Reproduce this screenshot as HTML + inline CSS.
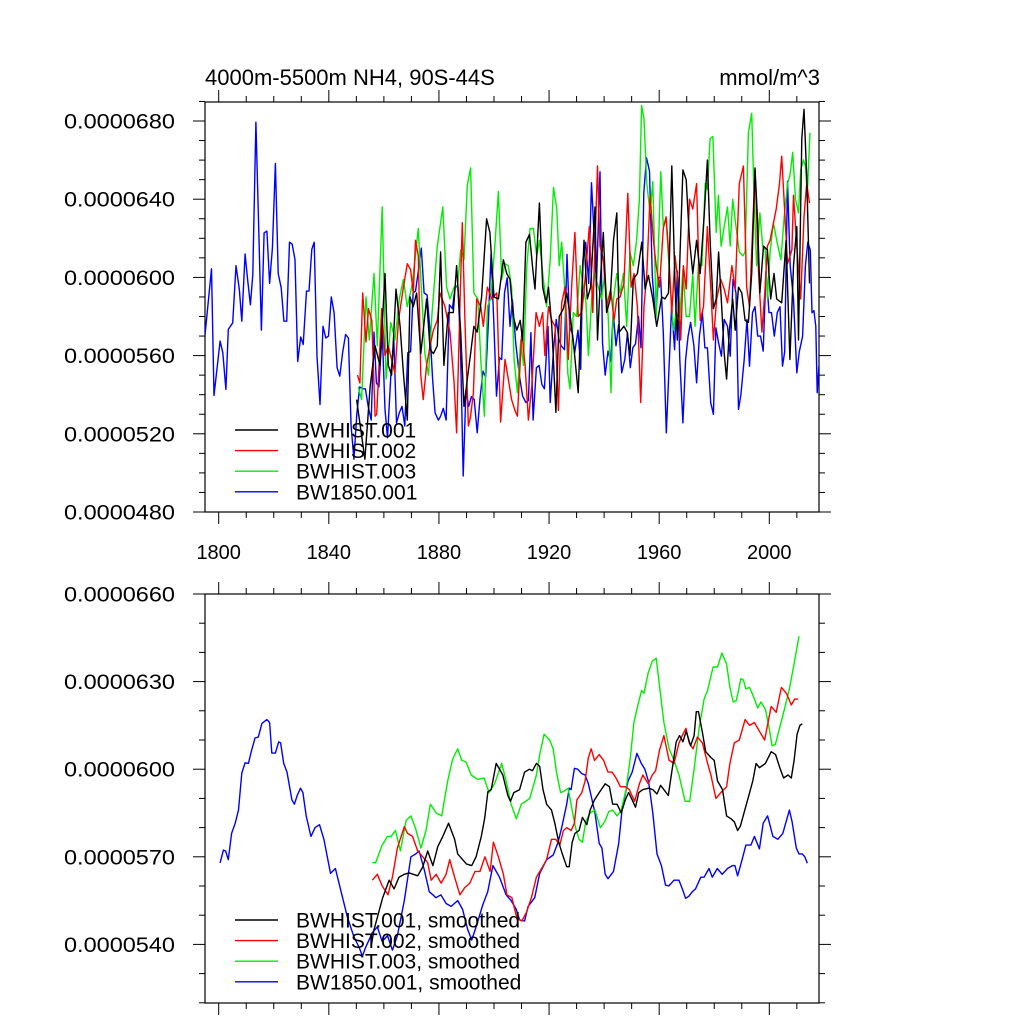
<!DOCTYPE html>
<html><head><meta charset="utf-8">
<style>
html,body{margin:0;padding:0;background:#fff;}
svg{display:block;font-family:"Liberation Sans",sans-serif;}
</style></head>
<body>
<svg id="chart" width="1024" height="1024" viewBox="0 0 1024 1024" xmlns="http://www.w3.org/2000/svg">
<defs>
<clipPath id="clipTop"><rect x="205" y="102" width="614" height="410"/></clipPath>
<clipPath id="clipBot"><rect x="205" y="594" width="614" height="409"/></clipPath>
</defs>
<g id="top"></g>
<g id="bot"></g>
</svg>
<script>
// ---------- DATA (values in units of 1e-6 mmol/m^3) ----------
const xTickYears = [1800, 1840, 1880, 1920, 1960, 2000];
const topYTicks = [48, 52, 56, 60, 64, 68];
const topYLabels = ["0.0000480","0.0000520","0.0000560","0.0000600","0.0000640","0.0000680"];
const botYTicks = [54, 57, 60, 63, 66];
const botYLabels = ["0.0000540","0.0000570","0.0000600","0.0000630","0.0000660"];
const seriesNames = ["BWHIST.001","BWHIST.002","BWHIST.003","BW1850.001"];
const seriesColors = ["#000000","#ff0000","#00ee00","#0000ff"];

const rawBlackYears = [1850.1,1853.1,1855,1856.8,1858.6,1860.4,1861.6,1862.8,1864.4,1865.9,1867.1,1868.5,1869.5,1870.7,1871.9,1873.4,1875.5,1876.8,1878,1879.4,1880.6,1881.8,1883.4,1885.2,1886.4,1887.9,1889.1,1890.3,1891.5,1892.7,1893.9,1895.5,1897.3,1898.5,1900,1901.6,1903.4,1904.6,1905.8,1907,1908.3,1909.5,1910.4,1911.6,1912.9,1914.1,1914.9,1916.5,1917.7,1918.9,1919.8,1921,1922.5,1923.7,1925.2,1926.4,1927.9,1929.1,1930.6,1931.9,1932.7,1933.9,1935.1,1936.7,1937.6,1938.5,1939.7,1940.9,1942.2,1943.4,1944.6,1945.5,1947.2,1948.4,1949.4,1950.6,1952.1,1953.7,1954.9,1956.1,1957.7,1959.1,1960.9,1962.1,1963.4,1964.6,1965.8,1966.6,1967.6,1968.6,1969.8,1971,1972.2,1973.6,1974.9,1976.3,1977.5,1978.5,1979.7,1980.7,1981.6,1982.7,1983.6,1984.5,1985.5,1986.7,1987.6,1988.8,1990,1991.2,1992.4,1993.6,1994.8,1995.7,1996.6,1997.9,1999.3,2000.5,2001.7,2002.7,2004.5,2006.1,2007.5,2008.8,2010,2010.6,2011.8,2012.6,2013.6,2014.6];
const rawBlackValues = [53.75,50.7,54.4,56.5,55.5,60.2,55.5,55.0,59.4,57.5,55.1,52.7,59.0,58.5,59.2,56.1,58.9,56.3,56.1,56.5,61.3,55.5,58.2,58.2,60.6,57.2,53.4,54.8,56.1,57.5,57.2,59.0,63.0,62.3,59.0,58.9,60.9,60.2,59.9,58.0,57.3,57.8,56.8,61.8,62.2,60.4,59.4,63.8,59.5,58.7,59.5,57.5,53.1,58.0,58.4,59.2,57.8,56.3,54.1,59.2,61.9,58.9,59.5,63.6,56.8,59.5,62.3,58.2,58.9,61.9,63.3,57.2,57.5,57.2,56.0,59.9,60.2,61.8,59.4,60.1,58.9,57.5,59.0,58.9,59.2,65.7,59.5,56.8,61.3,65.5,65.0,61.9,60.2,61.9,60.2,63.1,66.0,61.9,58.4,58.9,61.3,58.5,56.1,54.8,57.3,58.9,57.3,59.5,59.2,57.8,57.7,60.2,65.6,63.0,59.2,61.6,61.4,58.9,60.2,58.9,58.7,61.9,55.8,60.6,62.6,56.8,67.1,68.6,65.2,59.7];

const rawRedYears = [1850.4,1851.3,1852.3,1853.5,1854.4,1855.6,1856.8,1857.4,1859.2,1860.4,1861.6,1862.8,1864,1865.3,1867.1,1868.5,1869.7,1870.7,1871.5,1872.5,1873.4,1874.3,1875.5,1876.8,1878,1879.4,1880.4,1882.2,1884,1885.5,1886.4,1887.7,1888.5,1889.5,1890.7,1891.5,1892.5,1893.7,1895.2,1896.1,1897.6,1899.2,1901,1902.4,1904,1905.2,1906.4,1907.6,1908.5,1910.1,1911.3,1912.5,1913.7,1915.3,1916.5,1917.7,1918.5,1919.8,1921,1922.2,1923.4,1924.6,1925.8,1927,1928.2,1929.4,1930.6,1931.9,1933.1,1934.6,1935.9,1937.6,1938.5,1939.7,1940.9,1942.4,1943.6,1944.6,1945.8,1947.2,1948.6,1949.8,1950.9,1952.1,1953.3,1954.5,1955.5,1956.7,1957.9,1958.9,1960.1,1961.5,1962.5,1963.4,1964.6,1965.8,1967,1967.8,1968.8,1969.8,1971,1972.2,1973.6,1974.9,1976.1,1977.5,1978.7,1979.7,1980.9,1982.4,1983.6,1984.8,1986.4,1987.6,1989.1,1990.6,1991.8,1992.8,1994.8,1996.1,1997.3,1998.5,1999.3,2000.3,2002.5,2003.7,2004.5,2005.7,2006.6,2008.2,2008.8,2010,2011.4,2012.6,2013.6,2014.6];
const rawRedValues = [55.0,54.6,59.2,56.7,58.4,57.8,52.9,53.0,58.4,56.0,56.5,55.8,55.1,57.8,59.5,60.7,60.4,59.2,61.9,61.1,55.0,53.75,55.5,56.5,57.3,57.8,59.2,58.5,57.2,54.6,52.05,58.9,62.8,57.5,52.4,52.9,54.1,58.9,58.5,57.5,59.5,58.9,59.2,52.6,55.8,54.8,53.75,53.2,52.9,57.2,55.5,52.7,54.4,58.2,57.5,58.2,56.0,58.5,57.8,57.5,53.2,58.7,59.5,55.8,59.5,62.3,58.0,58.2,59.9,62.6,58.2,65.7,61.6,60.9,58.5,59.4,57.8,58.9,59.0,59.7,64.3,59.5,60.2,58.5,53.6,58.5,60.2,64.2,61.9,60.6,59.5,62.5,63.1,61.4,58.2,61.1,59.5,56.8,60.6,59.4,64.0,63.5,64.8,57.8,58.5,62.6,59.5,56.8,58.9,59.9,59.4,58.7,60.6,59.4,64.8,65.7,59.5,58.5,65.5,60.2,57.2,59.5,61.6,61.9,63.5,64.8,66.2,63.1,60.7,61.4,64.2,61.6,58.9,63.1,64.8,63.8];

const rawGreenYears = [1850.7,1851.9,1853.5,1854.7,1856.4,1857.6,1859.4,1860.8,1862.5,1864,1865.6,1867.1,1868.5,1870.1,1871.3,1872.5,1873.7,1874.9,1876.2,1877.4,1879.4,1881.4,1882.8,1884,1885.5,1886.7,1887.9,1889.1,1890.3,1891.5,1892.7,1894.1,1895.3,1896.5,1897.6,1898.8,1900.4,1901.6,1902.8,1904,1905.2,1906.4,1907.3,1908.5,1909.7,1910.7,1911.9,1913.1,1914.3,1915.5,1916.5,1917.7,1919.1,1920.4,1921.6,1922.8,1923.7,1924.6,1925.8,1926.8,1927.6,1928.8,1930,1931.3,1932.5,1933.4,1934.3,1935.5,1936.7,1937.9,1939.1,1940.3,1941.5,1942.5,1943.4,1944.6,1945.8,1947,1948.2,1949.4,1950.6,1951.8,1952.8,1953.6,1954.5,1955.5,1956.7,1957.7,1958.9,1960.6,1961.5,1962.5,1963.7,1965.2,1966.1,1967.4,1968.6,1969.8,1971,1972.2,1973,1974.3,1975.5,1976.7,1977.5,1978.5,1979.5,1980.7,1981.5,1982.5,1983.6,1984.8,1985.8,1986.7,1987.9,1989.1,1990.4,1991.2,1992.4,1993.6,1994.5,1995.4,1996.6,1997.6,1998.5,1999.3,2000.3,2001.5,2002.7,2004.2,2005.4,2006.6,2007.5,2008.5,2009.5,2010.6,2011.4,2012.4,2013.1,2013.8,2014.8];
const rawGreenValues = [54.4,53.75,59.0,56.8,60.2,56.5,63.6,54.8,57.7,56.8,58.9,59.9,58.5,59.5,60.9,62.5,59.2,56.1,55.0,58.0,61.6,63.6,59.5,58.9,59.5,59.5,61.4,60.9,64.7,65.6,59.2,58.9,55.5,52.9,58.5,58.9,61.8,64.4,59.9,60.7,60.6,59.5,55.8,54.1,56.8,55.5,60.6,62.5,62.5,61.1,61.9,60.2,58.5,60.9,64.6,63.5,60.6,61.8,59.2,55.1,54.3,58.2,58.0,60.6,59.5,58.7,56.0,58.9,60.2,59.5,58.9,60.2,58.0,54.1,58.9,60.2,59.2,60.2,57.5,61.3,60.6,61.9,64.0,68.8,68.1,64.8,63.3,64.9,58.0,65.4,62.6,63.0,60.2,57.3,58.2,57.8,60.4,58.0,58.0,60.2,57.5,60.7,60.6,64.8,64.5,67.1,67.2,62.3,64.2,61.6,62.6,63.6,61.6,64.0,62.6,61.3,61.1,61.3,67.4,68.4,64.0,60.6,63.3,61.6,61.4,58.9,61.3,62.8,61.9,60.9,63.1,64.8,65.2,66.4,64.0,63.3,65.5,66.0,65.7,64.3,67.4];

const rawBlueYears = [1795,1797.4,1798.3,1800.5,1801.5,1802.6,1803.5,1805.1,1806.3,1807.5,1808.4,1809.6,1810.5,1811.5,1812.4,1813.5,1815.5,1816.5,1817.5,1818.5,1819.5,1820.6,1821.6,1822.7,1823.7,1824.7,1825.7,1826.7,1827.7,1828.7,1829.8,1830.7,1831.9,1832.8,1833.8,1834.7,1835.7,1836.8,1837.9,1838.9,1839.9,1840.9,1841.9,1843,1844,1845,1846.1,1847.1,1848.1,1849.1,1850.2,1851.2,1852.3,1853.3,1854.3,1855.4,1856.4,1857.3,1858.2,1859.4,1860.4,1861.3,1862.5,1863.6,1864.6,1865.6,1866.6,1867.6,1868.7,1869.7,1870.6,1871.5,1872.4,1873.6,1874.6,1875.7,1876.7,1877.7,1878.6,1879.8,1880.6,1881.6,1882.6,1883.8,1884.9,1885.9,1886.9,1887.8,1888.8,1889.8,1890.8,1891.8,1892.8,1893.9,1894.9,1896,1897,1897.9,1898.9,1899.9,1900.9,1902,1902.8,1903.8,1904.8,1905.8,1906.7,1907.9,1909.2,1910.4,1911.6,1912.5,1913.4,1914.2,1915.4,1916.4,1917.4,1918.3,1919.6,1920.4,1921.6,1922.6,1923.6,1924.4,1925.6,1926.5,1927.5,1928.5,1929.3,1930.5,1931.5,1932.3,1933.3,1934.4,1935.4,1936.4,1937.2,1938.5,1939.4,1940.4,1941.4,1942.4,1943.3,1944.3,1945.3,1946.4,1947.5,1948.5,1949.5,1950.4,1951.4,1952.5,1953.4,1954.4,1955.4,1956.5,1957.5,1958.7,1959.7,1960.5,1961.5,1962.6,1963.6,1964.5,1965.6,1966.6,1967.5,1968.6,1969.6,1970.5,1971.4,1972.6,1973.6,1974.6,1975.7,1976.6,1977.5,1978.7,1979.7,1980.6,1981.5,1982.6,1983.6,1984.8,1985.8,1986.8,1987.9,1988.8,1989.7,1990.9,1991.9,1992.8,1993.9,1994.8,1995.8,1996.8,1997.8,1998.8,1999.9,2000.8,2001.8,2002.9,2003.9,2004.8,2005.6,2006.6,2007.6,2008.8,2010,2010.9,2012.1,2013.1,2014,2014.9,2015.5,2016.2,2016.9,2017.4,2018];
const rawBlueValues = [57.0,60.44,53.96,56.74,56.15,54.27,57.34,57.68,60.6,59.4,57.76,61.2,59.9,58.6,60.15,67.94,57.3,62.28,62.37,59.7,61.5,65.83,60.2,59.47,57.76,57.76,61.8,61.7,60.9,55.7,56.95,56.57,59.3,59.3,61.43,61.8,55.97,53.5,57.5,56.9,57.0,59.0,58.19,55.38,54.95,56.15,57.08,56.9,52.4,50.7,53.07,54.4,54.3,54.3,53.4,52.7,57.2,54.6,54.4,57.25,53.25,51.8,54.95,56.8,52.56,53.07,53.4,52.4,56.15,56.2,59.2,59.3,60.2,61.5,59.2,59.1,57.34,54.8,53.07,52.7,52.9,53.3,52.7,58.6,58.4,59.55,59.55,56.66,49.84,54.2,53.4,53.9,53.76,52.05,53.8,55.2,54.9,57.5,61.17,57.85,53.93,55.9,55.8,59.2,59.98,57.5,58.87,56.66,55.0,53.93,53.6,53.7,57.17,52.7,55.38,55.5,54.52,54.3,57.5,53.6,56.3,57.85,56.8,56.5,56.3,61.17,57.5,57.1,56.15,57.3,55.3,60.9,61.8,59.7,64.84,62.1,59.55,65.4,56.66,55.0,56.23,55.7,58.19,56.5,57.6,55.12,55.8,57.17,55.38,56.4,56.6,58.0,56.4,64.33,66.12,65.43,60.06,57.85,60.0,60.0,57.17,52.05,55.46,58.53,56.3,60.32,55.8,52.56,55.8,57.0,57.7,56.5,54.61,57.0,58.19,56.4,56.4,53.6,53.0,57.42,56.7,55.97,57.85,57.5,55.97,59.9,59.2,53.25,54.0,55.8,57.85,55.46,58.2,58.5,57.0,57.0,56.23,60.32,58.2,58.2,57.0,58.2,58.5,55.46,56.2,64.92,60.58,58.9,55.12,56.2,57.0,60.6,61.8,61.4,58.19,58.3,57.5,54.1,55.46,53.4];

const smBlackYears = [1855.5,1856.4,1859.5,1861.9,1863.7,1865.5,1867.4,1869.2,1872.3,1874.1,1875.9,1877.8,1879.6,1881.4,1883.5,1885.7,1886.8,1890,1891.9,1893.5,1895.4,1896.6,1897.8,1899,1900.8,1903.2,1905,1906,1907.2,1909.3,1911.1,1912.9,1914,1915.4,1916.6,1917.8,1919.1,1920.9,1922.1,1923.5,1924.8,1926.4,1927.3,1928.4,1929.4,1930.9,1932.1,1933.7,1934.9,1936.5,1938.2,1940.4,1941.9,1943.1,1944.7,1946.2,1947.7,1948.9,1950.2,1951.4,1952.6,1954.1,1956.2,1957.7,1959.2,1960.5,1963.3,1964.8,1966.2,1967.4,1968.6,1969.8,1971.4,1972.7,1973.5,1974.3,1975.7,1976.9,1978.8,1980,1981.2,1983,1984.5,1986.1,1987.3,1988.5,1989.5,1992.1,1994,1995.2,1996.4,1998.6,2000.7,2002.3,2003.8,2005.2,2006.8,2008,2009,2010.1,2011.1,2012];
const smBlackValues = [54.0,54.5,55.58,56.2,55.9,56.3,56.4,56.45,56.35,56.65,57.2,56.7,57.35,57.7,58.15,57.6,57.1,56.75,56.7,57.0,57.7,58.3,59.23,59.3,60.2,59.8,59.1,58.9,59.2,59.3,59.9,60.0,59.95,60.2,60.1,59.3,58.8,58.6,58.15,57.5,57.1,56.66,56.66,57.5,57.8,57.9,58.35,58.1,58.6,58.95,59.2,59.5,59.4,58.8,58.8,58.5,58.95,59.2,58.95,58.7,59.2,59.3,59.35,59.3,59.15,59.45,59.1,60.05,60.94,61.15,60.94,61.3,60.8,61.15,61.97,61.97,61.26,60.6,60.4,60.3,59.6,59.3,58.4,58.3,58.2,57.9,58.05,58.95,59.6,60.2,60.05,60.2,60.6,60.5,60.05,59.7,59.8,59.7,60.3,61.2,61.5,61.55];

const smRedYears = [1855.8,1857.6,1859.4,1861.5,1863.1,1864.9,1867.4,1868.6,1870.4,1872.3,1874.1,1875.9,1877.2,1879,1880.8,1882.6,1883.9,1885.7,1887.6,1889.4,1891.2,1893.1,1894.9,1896.7,1898.6,1899.8,1901.6,1903.4,1904.7,1906.5,1908.3,1910.1,1911.8,1913.6,1915.4,1917.3,1919.1,1920.9,1922.4,1923.9,1925.2,1926.4,1928,1929.2,1930.1,1931.9,1933.1,1934.3,1935.3,1936.5,1938.2,1939.8,1941.4,1942.9,1944.3,1945.9,1947.7,1949.1,1951.1,1952.8,1954.1,1956,1957.5,1958.7,1960.1,1961.7,1963.6,1965.4,1967.2,1968.4,1969.7,1970.9,1972.3,1973.9,1975.7,1977.6,1978.8,1980.6,1982.4,1984.5,1985.7,1987.3,1989.1,1991.2,1992.8,1994.6,1996.4,1998.3,2000.7,2002.5,2004.4,2006.2,2008,2009.2,2010.5];
const smRedValues = [56.2,56.4,56.0,55.7,56.3,57.3,58.03,57.8,57.7,57.2,57.0,56.8,56.2,56.4,56.1,56.4,56.9,56.3,55.7,55.95,56.1,56.5,56.5,57.0,56.5,57.5,57.0,56.4,55.7,55.6,54.9,54.8,55.1,55.6,56.3,56.6,56.9,57.6,57.6,57.4,57.9,58.0,57.9,58.15,58.95,59.2,59.6,60.4,60.7,60.3,60.5,60.3,59.9,59.9,59.7,59.4,59.4,59.3,58.9,59.5,59.8,59.5,59.8,59.95,60.65,61.15,60.3,60.2,60.9,61.15,61.4,60.9,60.7,61.1,60.9,60.2,59.8,59.0,59.2,59.4,60.2,60.9,61.0,61.7,61.5,61.6,61.3,61.0,62.15,61.95,62.8,62.6,62.2,62.4,62.4];

const smGreenYears = [1855.8,1857,1859.4,1861.3,1862.6,1864.2,1866,1868.1,1869.8,1871.4,1873.5,1875.3,1876.9,1879,1881,1883.2,1885,1886.8,1888.3,1889.8,1891.7,1894.1,1896.4,1898.2,1900.2,1902.8,1904.4,1906.2,1908.1,1909.9,1913,1915.4,1916.6,1918.2,1920.2,1921.5,1922.7,1924.2,1925.5,1926.9,1928.2,1929.6,1930.9,1932.1,1933.3,1934.9,1936.7,1938.6,1940.2,1941.7,1943.1,1944.7,1946.2,1948,1949.6,1950.8,1952,1953.6,1954.5,1956,1957.5,1958.9,1960.2,1961.7,1963.6,1965.4,1967.2,1969.4,1971.1,1972.7,1974.5,1976.3,1977.6,1979.6,1981.2,1982.8,1984.5,1985.7,1986.9,1988,1989.7,1990.6,1991.5,1992.8,1994.2,1995.8,1997,1998.6,1999.8,2001,2002.2,2003.7,2005.5,2007.3,2008.8,2010.8];
const smGreenValues = [56.8,56.8,57.4,57.7,57.7,57.9,57.2,58.25,58.4,58.0,57.3,57.9,58.8,58.5,58.4,59.6,60.35,60.7,60.3,60.25,59.8,59.65,59.7,59.2,59.5,60.2,59.6,58.8,58.3,58.8,59.0,59.8,60.5,61.2,61.0,60.7,59.9,59.2,59.25,59.35,58.7,58.0,57.6,57.5,58.2,58.5,58.6,58.0,58.2,58.55,58.6,58.4,58.6,59.3,60.45,61.6,62.1,62.7,62.6,63.3,63.7,63.8,62.8,61.6,60.7,60.3,59.8,58.9,58.9,60.0,61.4,62.4,62.7,63.5,63.5,63.98,63.6,62.8,62.3,62.35,63.1,63.05,62.75,62.8,62.5,62.1,62.3,62.05,61.5,60.8,60.85,61.4,62.05,62.75,63.5,64.55];

const smBlueYears = [1800.5,1801.7,1802.5,1803.5,1804.7,1806,1807.2,1808.4,1809.6,1810.8,1812,1813.2,1814.4,1815.7,1817.5,1818.5,1819.3,1820.6,1821.8,1822.5,1823.6,1824.8,1826.6,1827.5,1828.5,1829.7,1830.6,1831.8,1833.5,1835,1836.6,1838.2,1840.6,1842.4,1844.3,1846.7,1849.1,1851,1852.2,1853.4,1855.8,1857.6,1859.4,1861.3,1863.1,1864.9,1867.4,1869.8,1871.6,1872.8,1874.7,1876.5,1877.8,1878.9,1880.7,1882.6,1884.4,1886.8,1888.6,1890.5,1891.9,1893.5,1895.9,1897.7,1899.6,1902,1904.4,1906.2,1908.1,1909.3,1911.1,1912.4,1914.8,1916.6,1919.1,1921.5,1923.3,1924.6,1926.4,1927.3,1928,1929.2,1930.4,1931.9,1933.1,1934.3,1935.5,1936.7,1938.2,1939.2,1940.4,1941.4,1943.4,1945.3,1946.5,1948.7,1950.2,1951.9,1953.5,1954.8,1956.2,1957.7,1959.2,1960.8,1962.3,1963.5,1965.4,1967.2,1968.4,1969.6,1970.8,1972,1973.2,1975.1,1976.3,1978.1,1979.3,1981.1,1982.9,1984.8,1986.6,1987.5,1988.5,1989.7,1991.5,1993.3,1994.6,1996.4,1997.8,1999.4,2001.3,2003.1,2004.9,2007.3,2008.3,2009.8,2010.8,2012,2012.9,2013.8];
const smBlueValues = [56.79,57.23,57.2,56.9,57.8,58.15,58.6,59.87,60.22,60.2,60.66,61.07,61.1,61.57,61.7,61.6,60.55,60.55,60.94,60.9,60.2,59.9,58.95,58.8,59.1,59.35,59.2,58.4,57.7,58.0,58.1,57.6,56.43,56.6,55.86,54.95,54.26,53.9,53.6,53.9,54.4,54.6,54.1,54.3,53.8,54.3,55.5,57.0,57.1,57.2,56.55,55.8,55.7,55.6,55.7,55.4,55.3,55.5,55.2,54.5,54.15,54.6,55.35,55.8,56.7,56.3,55.7,55.5,55.2,54.84,54.8,55.3,55.6,56.43,56.9,57.06,57.5,58.0,58.8,59.35,59.3,60.03,60.0,59.85,59.8,59.5,59.0,58.5,57.46,57.3,56.4,56.25,56.5,57.46,58.6,59.6,59.9,60.54,60.2,60.0,59.55,58.5,57.1,56.7,56.03,56.0,56.2,56.2,55.9,55.58,55.65,55.8,55.9,56.3,56.3,56.6,56.3,56.6,56.4,56.6,56.7,56.7,56.35,56.75,57.4,57.4,57.7,57.27,58.15,58.4,57.7,57.6,57.8,58.6,58.2,57.3,57.1,57.1,57.0,56.78];

// ---------- DRAWING ----------
const NS = "http://www.w3.org/2000/svg";
const X0 = 205, X1 = 819;
function xScale(yr){ return 218.7 + (yr - 1800) * 2.753; }
function yTop(v){ return 121 + (68 - v) * 19.55; }
function yBot(v){ return 594 + (66 - v) * 29.2; }
function mk(tag, attrs, parent){
  const e = document.createElementNS(NS, tag);
  for (const k in attrs) e.setAttribute(k, attrs[k]);
  parent.appendChild(e);
  return e;
}

function drawPanel(g, top, bottom, yFn, yMin, yMax, yTicks, yLabels, showXLabels){
  const frame = mk("rect", {x:X0, y:top, width:X1-X0, height:bottom-top, fill:"none", stroke:"#000", "stroke-width":1.2}, g);
  
  
  for (let yr = 1800; yr <= 2010; yr += 10){
    const x = xScale(yr);
    const major = xTickYears.indexOf(yr) >= 0;
    const len = major ? 12 : 6;
    const tb = mk("line", {x1:x, x2:x, y1:bottom, y2:bottom+len, stroke:"#000", "stroke-width":1}, g);
    
    
    const tt = mk("line", {x1:x, x2:x, y1:top, y2:top-len, stroke:"#000", "stroke-width":1}, g);
    
    
  }
  if (showXLabels){
    xTickYears.forEach(yr => {
      const t = mk("text", {x:xScale(yr), y:bottom+47, "text-anchor":"middle", "font-size":20}, g);
      t.textContent = String(yr);
      
      
    });
  }
  for (let v = Math.ceil(yMin); v <= yMax; v += 1){
    const y = yFn(v);
    const major = yTicks.indexOf(v) >= 0;
    const len = major ? 12 : 6;
    const tl = mk("line", {x1:X0, x2:X0-len, y1:y, y2:y, stroke:"#000", "stroke-width":1}, g);
    
    
    const tr = mk("line", {x1:X1, x2:X1+len, y1:y, y2:y, stroke:"#000", "stroke-width":1}, g);
    
    
  }
  yTicks.forEach((v, i) => {
    const t = mk("text", {x:64, y:yFn(v)+7.5, "font-size":21, textLength:111, lengthAdjust:"spacingAndGlyphs"}, g);
    t.textContent = yLabels[i];
    
    
  });
}

function drawLine(g, years, values, yFn, color, clip, name){
  const pts = years.map((yr, i) => xScale(yr).toFixed(1) + "," + yFn(values[i]).toFixed(1)).join(" ");
  const p = mk("polyline", {points:pts, fill:"none", stroke:color, "stroke-width":1.4, "stroke-linejoin":"round", "clip-path":"url(#"+clip+")"}, g);
  
  
}

function drawLegend(g, y0, suffix){
  seriesNames.forEach((n, i) => {
    const y = y0 + i * 20.6;
    const l = mk("line", {x1:235, x2:278, y1:y, y2:y, stroke:seriesColors[i], "stroke-width":1.4}, g);
    
    
    const t = mk("text", {x:296, y:y+7.5, "font-size":21}, g);
    t.textContent = n + suffix;
    
    
  });
}

const gTop = document.getElementById("top");
const gBot = document.getElementById("bot");

drawPanel(gTop, 102, 512, yTop, 48, 69, topYTicks, topYLabels, true);
drawLine(gTop, rawBlueYears, rawBlueValues, yTop, seriesColors[3], "clipTop", "series-bw1850-001");
drawLine(gTop, rawGreenYears, rawGreenValues, yTop, seriesColors[2], "clipTop", "series-bwhist-003");
drawLine(gTop, rawRedYears, rawRedValues, yTop, seriesColors[1], "clipTop", "series-bwhist-002");
drawLine(gTop, rawBlackYears, rawBlackValues, yTop, seriesColors[0], "clipTop", "series-bwhist-001");
drawLegend(gTop, 430, "");

const title = mk("text", {x:205, y:85, "font-size":22}, gTop);
title.textContent = "4000m-5500m NH4, 90S-44S";


const units = mk("text", {x:820, y:85, "font-size":22, "text-anchor":"end"}, gTop);
units.textContent = "mmol/m^3";



drawPanel(gBot, 594, 1003, yBot, 52, 66, botYTicks, botYLabels, false);
drawLine(gBot, smBlueYears, smBlueValues, yBot, seriesColors[3], "clipBot", "smoothed-bw1850-001");
drawLine(gBot, smGreenYears, smGreenValues, yBot, seriesColors[2], "clipBot", "smoothed-bwhist-003");
drawLine(gBot, smRedYears, smRedValues, yBot, seriesColors[1], "clipBot", "smoothed-bwhist-002");
drawLine(gBot, smBlackYears, smBlackValues, yBot, seriesColors[0], "clipBot", "smoothed-bwhist-001");
drawLegend(gBot, 920, ", smoothed");
</script>
</body></html>
